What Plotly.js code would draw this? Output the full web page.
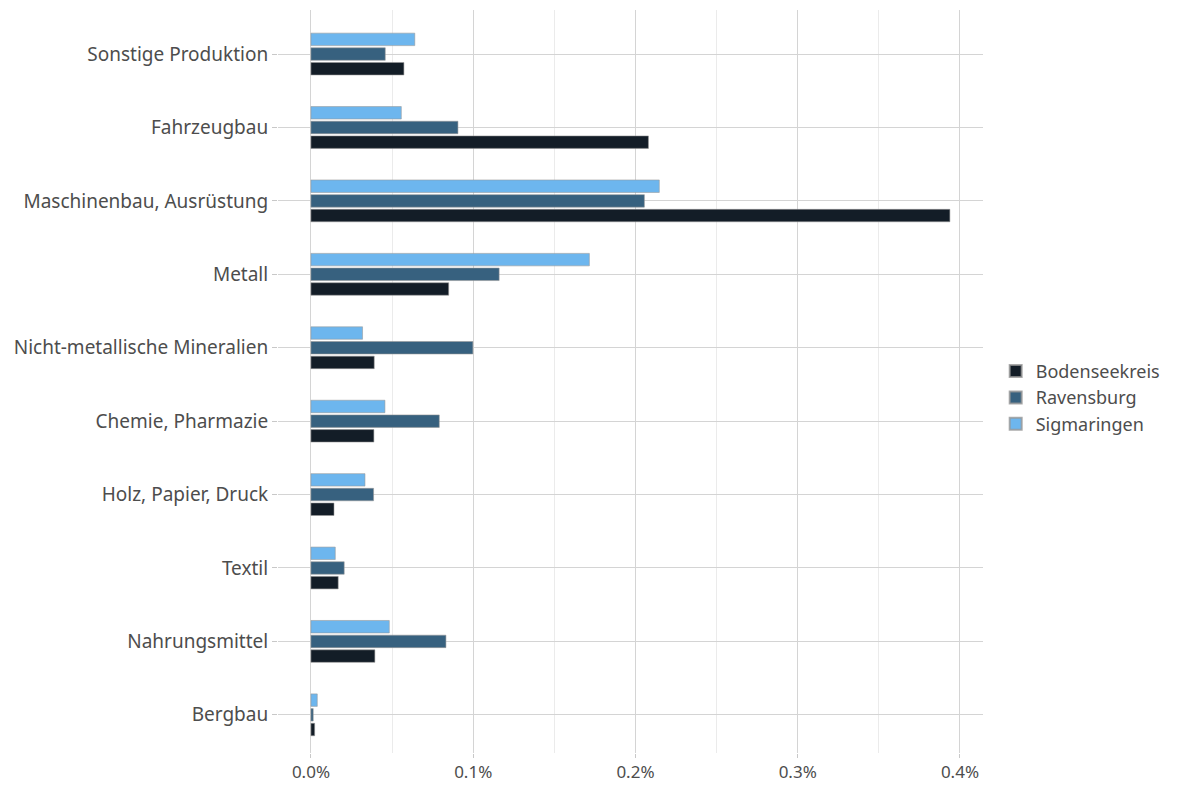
<!DOCTYPE html>
<html>
<head>
<meta charset="utf-8">
<script src="https://cdn.plot.ly/plotly-3.0.1.min.js"></script>
<style>html,body{margin:0;padding:0;background:#fff;}#chart{width:1181px;height:785px;}</style>
</head>
<body>
<div id="chart"></div>
<script>
// categories bottom to top
const categories = ["Bergbau","Nahrungsmittel","Textil","Holz, Papier, Druck","Chemie, Pharmazie","Nicht-metallische Mineralien","Metall","Maschinenbau, Ausrüstung","Fahrzeugbau","Sonstige Produktion"];
const seriesNames = ["Bodenseekreis","Ravensburg","Sigmaringen"];
// values in percent
const bodenseekreis = [0.0023, 0.0394, 0.0168, 0.0142, 0.0388, 0.0390, 0.0849, 0.3938, 0.2080, 0.0573];
const ravensburg    = [0.0014, 0.0832, 0.0205, 0.0386, 0.0791, 0.0998, 0.1160, 0.2055, 0.0906, 0.0458];
const sigmaringen   = [0.0039, 0.0483, 0.0150, 0.0333, 0.0456, 0.0318, 0.1716, 0.2147, 0.0557, 0.0640];
const xTickVals = [0, 0.1, 0.2, 0.3, 0.4];
const xTickText = ["0.0%","0.1%","0.2%","0.3%","0.4%"];

const colors = ["#131d27", "#37617f", "#6db6ee"];
const values = [bodenseekreis, ravensburg, sigmaringen];
const textColor = "#4d4d4d";
const fontFam = "Noto Sans, Open Sans, DejaVu Sans, sans-serif";

const traces = seriesNames.map((name, i) => ({
  type: "bar",
  orientation: "h",
  name: name,
  y: categories,
  x: values[i],
  marker: {color: colors[i], line: {color: "rgba(150,150,150,0.8)", width: 0.7}},
  hoverinfo: "x+y+name"
}));

const layout = {
  width: 1181,
  height: 785,
  margin: {l: 278, r: 198, t: 10, b: 32},
  paper_bgcolor: "#ffffff",
  plot_bgcolor: "#ffffff",
  barmode: "group",
  bargap: 0.4,
  bargroupgap: 0.15,
  font: {family: fontFam, color: textColor, size: 19},
  xaxis: {
    range: [-0.0203, 0.4142],
    tickvals: xTickVals,
    ticktext: xTickText,
    showgrid: true,
    gridcolor: "#d4d4d4",
    gridwidth: 1,
    minor: {dtick: 0.05, tick0: 0.05, showgrid: true, gridcolor: "#ebebeb", gridwidth: 1},
    zeroline: false,
    ticks: "outside",
    ticklen: 4,
    tickcolor: "#c8c8c8",
    tickfont: {size: 17, color: textColor},
    showline: false,
    fixedrange: true
  },
  yaxis: {
    type: "category",
    categoryorder: "array",
    categoryarray: categories,
    range: [-0.52, 9.6],
    showgrid: true,
    gridcolor: "#d4d4d4",
    gridwidth: 1,
    zeroline: false,
    ticks: "outside",
    ticklen: 5,
    tickcolor: "#c8c8c8",
    tickfont: {size: 19, color: textColor},
    showline: false,
    fixedrange: true,
    automargin: false
  },
  legend: {
    x: 1.018, xanchor: "left",
    y: 0.478, yanchor: "middle",
    traceorder: "normal",
    font: {size: 18, color: textColor},
    itemsizing: "constant",
    tracegroupgap: 0
  },
  showlegend: true
};

Plotly.newPlot("chart", traces, layout, {displayModeBar: false, staticPlot: true});
</script>
</body>
</html>
